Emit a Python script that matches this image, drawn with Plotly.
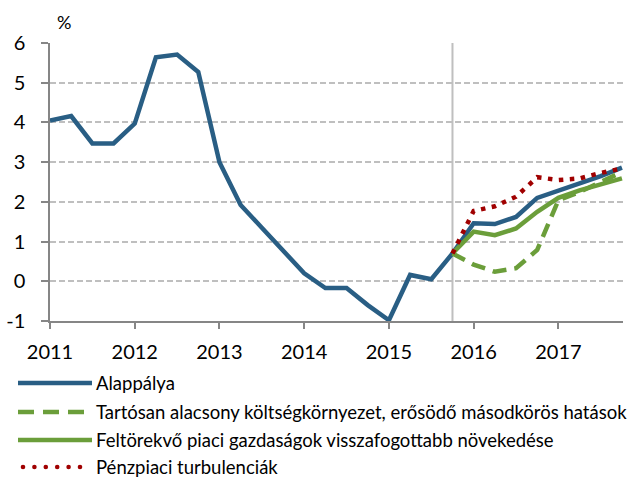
import plotly.graph_objects as go

# ---- data ----
quarters = [f"{y} Q{q}" for y in range(2011, 2018) for q in range(1, 5)]
year_ticks = ["2011 Q1", "2012 Q1", "2013 Q1", "2014 Q1", "2015 Q1", "2016 Q1", "2017 Q1"]
year_labels = ["2011", "2012", "2013", "2014", "2015", "2016", "2017"]
y_ticks = [-1, 0, 1, 2, 3, 4, 5, 6]
y_labels = ["-1", "0", "1", "2", "3", "4", "5", "6"]

alappalya = [4.05, 4.16, 3.47, 3.47, 3.97, 5.64, 5.71, 5.27,
             3.0, 1.92, 1.35, 0.77, 0.2, -0.17, -0.17, -0.6,
             -0.98, 0.16, 0.05, 0.7, 1.46, 1.44, 1.62, 2.1,
             2.28, 2.44, 2.65, 2.86]
tartosan = [None] * 19 + [0.7, 0.42, 0.24, 0.33, 0.79, 2.04, 2.25, 2.5, 2.75]
feltorekvo = [None] * 19 + [0.7, 1.25, 1.16, 1.33, 1.75, 2.1, 2.29, 2.44, 2.59]
penzpiaci = [None] * 19 + [0.7, 1.77, 1.89, 2.13, 2.62, 2.55, 2.59, 2.73, 2.84]

names = ["Alappálya",
         "Tartósan alacsony költségkörnyezet, erősödő másodkörös hatások",
         "Feltörekvő piaci gazdaságok visszafogottabb növekedése",
         "Pénzpiaci turbulenciák"]
split_label = "2015 Q4"

BLUE = "#295E84"
GREEN = "#6B9E3A"
RED = "#A00000"
FONT = "Lato, 'Open Sans', sans-serif"

series = [
    (alappalya, dict(color=BLUE, width=4.5)),
    (tartosan, dict(color=GREEN, width=4.5, dash="14px,8px")),
    (feltorekvo, dict(color=GREEN, width=4.5)),
    (penzpiaci, dict(color=RED, width=4.5, dash="4.5px,6.5px")),
]

fig = go.Figure()
for (vals, ln), nm in zip(series, names):
    fig.add_trace(go.Scatter(x=quarters, y=vals, mode="lines", name=nm,
                             line=ln, connectgaps=False, showlegend=False,
                             hoverinfo="skip"))

# plot area geometry (pixels)
L, R, T, B = 50, 12, 43, 158
W, H = 635, 479
pw, ph = W - L - R, H - T - B

fig.update_layout(
    width=W, height=H,
    margin=dict(l=L, r=R, t=T, b=B, autoexpand=False),
    paper_bgcolor="white", plot_bgcolor="white",
    font=dict(family=FONT, color="black", size=20),
)
fig.update_xaxes(
    type="category", categoryorder="array", categoryarray=quarters,
    range=[0, 27.05], automargin=False,
    tickmode="array", tickvals=year_ticks, ticktext=year_labels,
    ticks="outside", ticklen=6, tickcolor="#868686", tickwidth=1.5,
    showline=True, linecolor="#868686", linewidth=1.5,
    showgrid=False, zeroline=False, tickfont=dict(size=20),
    ticklabelstandoff=6,
)
fig.update_yaxes(
    range=[-1, 6], automargin=False,
    tickmode="array", tickvals=y_ticks, ticktext=y_labels,
    ticks="outside", ticklen=7, tickcolor="#868686", tickwidth=1.5,
    showline=True, linecolor="#868686", linewidth=1.5,
    showgrid=True, gridcolor="#BFBFBF", gridwidth=1.5, griddash="6px,3px",
    zeroline=False, tickfont=dict(size=20), ticklabelstandoff=12,
)

# vertical separator at forecast start
fig.add_shape(type="line", xref="x", yref="paper", x0=split_label, x1=split_label,
              y0=0, y1=1, line=dict(color="#BFBFBF", width=2), layer="below")


def px_x(p):
    return (p - L) / pw


def px_y(p):
    return (H - B - p) / ph


# "%" unit label
fig.add_annotation(xref="paper", yref="paper", x=px_x(64), y=px_y(22),
                   text="%", showarrow=False, font=dict(size=18), xanchor="center",
                   yanchor="middle")

# manual legend
rows = [383, 412, 440, 467]
for (vals, ln), nm, yy in zip(series, names, rows):
    if ln.get("dash") == "14px,8px":
        segs = [(18, 34), (43, 59), (68, 84)]
        for a, b in segs:
            fig.add_shape(type="line", xref="paper", yref="paper",
                          x0=px_x(a), x1=px_x(b), y0=px_y(yy), y1=px_y(yy),
                          line=dict(color=ln["color"], width=4.5))
    elif "dash" in ln:
        for i in range(6):
            cx = 23 + i * 11.4
            fig.add_shape(type="circle", xref="paper", yref="paper",
                          x0=px_x(cx - 2.3), x1=px_x(cx + 2.3),
                          y0=px_y(yy + 2.3), y1=px_y(yy - 2.3),
                          fillcolor=ln["color"], line=dict(width=0))
    else:
        fig.add_shape(type="line", xref="paper", yref="paper",
                      x0=px_x(18), x1=px_x(92), y0=px_y(yy), y1=px_y(yy),
                      line=dict(color=ln["color"], width=4.5))
    fig.add_annotation(xref="paper", yref="paper", x=px_x(94), y=px_y(yy),
                       text=nm, showarrow=False, xanchor="left", yanchor="middle",
                       font=dict(size=18.5))

fig.write_html("out.html",
               config={"displayModeBar": False},
               post_script="document.body.style.margin='0px';"
                           "document.body.style.padding='0px';"
                           "document.documentElement.style.overflow='hidden';")
